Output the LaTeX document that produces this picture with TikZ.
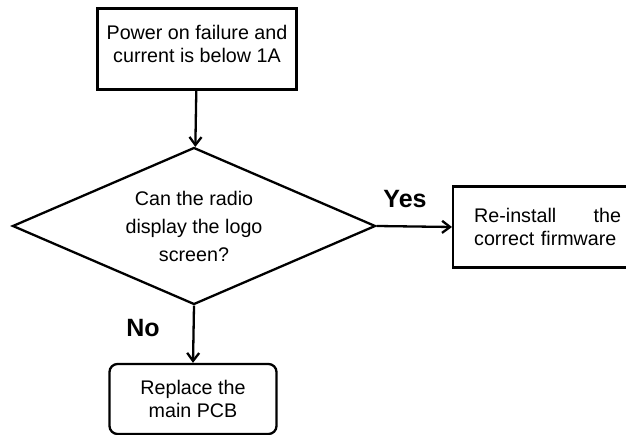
\documentclass[tikz,border=0pt]{standalone}
\usepackage{fontspec}
\setmainfont{Liberation Sans}
\usepackage{tikz}
\usetikzlibrary{arrows.meta,positioning,shapes.geometric}

\begin{document}
\begin{tikzpicture}[
  x=1pt, y=-1pt,
  stepbox/.style={draw=black, line width=2.3pt, rectangle, align=center,
                  font=\fontsize{19.7}{23}\selectfont},
  endbox/.style={stepbox, rounded corners=8pt},
  decision/.style={draw=black, line width=2.3pt, diamond, aspect=2.3, inner sep=0pt,
                   align=center, font=\fontsize{19.7}{28}\selectfont},
  flow/.style={-{Straight Barb[length=8pt,width=12pt]}, line width=2.3pt},
  answer/.style={font=\fontsize{25}{28}\selectfont\bfseries},
]
  \useasboundingbox (0,0) rectangle (626,435);

  % Start -------------------------------------------------------------------
  \node[stepbox, minimum width=199pt, minimum height=81pt] (start) at (197,49)
    {Power on failure and\\current is below 1A\\[-13pt]};

  % Decision ----------------------------------------------------------------
  \node[decision, minimum width=363pt, minimum height=157pt] (logo) at (194,226)
    {Can the radio\\display the logo\\screen?};
  \draw[flow] (start) -- (logo);

  % Yes ---------------------------------------------------------------------
  \node[stepbox, anchor=west, align=left, text width=147pt, inner xsep=21pt,
        minimum height=81pt] (firmware) at (452,227)
    {Re-install\hfill the\\correct firmware\\[-13pt]};
  \draw[flow] (logo.east) -- (firmware.west);
  \node[answer] (yes) at (405,199) {Yes};

  % No ----------------------------------------------------------------------
  \node[endbox, minimum width=167pt, minimum height=70pt] (pcb) at (193,399)
    {Replace the\\main PCB};
  \draw[flow] (logo.south) -- (pcb.north);
  \node[answer] (no) at (143,328) {No};
\end{tikzpicture}
\end{document}
